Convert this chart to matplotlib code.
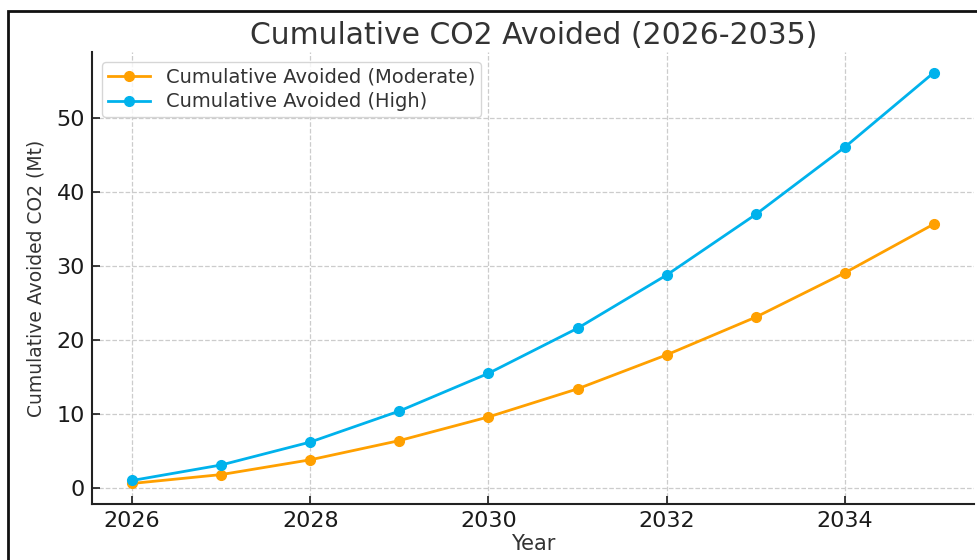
import matplotlib
matplotlib.use("Agg")
import matplotlib.pyplot as plt
from matplotlib.patches import Rectangle

plt.rcParams["font.family"] = ["DejaVu Sans"]

years = [2026, 2027, 2028, 2029, 2030, 2031, 2032, 2033, 2034, 2035]
moderate = [0.6, 1.8, 3.8, 6.4, 9.6, 13.4, 18.0, 23.1, 29.1, 35.7]
high = [1.0, 3.1, 6.2, 10.4, 15.5, 21.6, 28.8, 37.0, 46.1, 56.2]
labels = ["Cumulative Avoided (Moderate)", "Cumulative Avoided (High)"]
xticks = [2026, 2028, 2030, 2032, 2034]
yticks = [0, 10, 20, 30, 40, 50]

W, H = 977, 560
fig = plt.figure(figsize=(W / 100, H / 100), dpi=100)
ax = fig.add_axes([92 / W, 56 / H, (974 - 92) / W, (504 - 52) / H])

ax.plot(years, moderate, color="#FFA000", lw=2, marker="o", ms=7, label=labels[0], zorder=3)
ax.plot(years, high, color="#00B2EC", lw=2, marker="o", ms=7, label=labels[1], zorder=3)

ax.set_xticks(xticks)
ax.set_yticks(yticks)
ax.tick_params(direction="in", length=6, width=1.2, labelsize=16, colors="#1a1a1a", pad=5)
ax.grid(True, linestyle="--", color="#cccccc", linewidth=0.9)
ax.set_axisbelow(True)
for s in ["top", "right"]:
    ax.spines[s].set_visible(False)
for s in ["left", "bottom"]:
    ax.spines[s].set_linewidth(1.5)
    ax.spines[s].set_color("#222222")

ax.set_xlabel("Year", fontsize=15, color="#333333", labelpad=2)
ax.set_ylabel("Cumulative Avoided CO2 (Mt)", fontsize=13.5, color="#333333", labelpad=8)
fig.text(534 / W, 1 - 35 / H, "Cumulative CO2 Avoided (2026-2035)", fontsize=21.5,
         color="#333333", ha="center", va="center")

leg = ax.legend(loc="upper left", fontsize=14, frameon=True, borderaxespad=0.5,
                handlelength=2.2, labelspacing=0.3, borderpad=0.3)
leg.get_frame().set_edgecolor("#cccccc")
for t in leg.get_texts():
    t.set_color("#333333")

fig.patches.append(Rectangle((8 / W, -0.1), 1.2, 1 - 11 / H + 0.1, transform=fig.transFigure,
                             fill=False, edgecolor="#111111", linewidth=2, clip_on=False))

fig.savefig("out.png", dpi=100)
